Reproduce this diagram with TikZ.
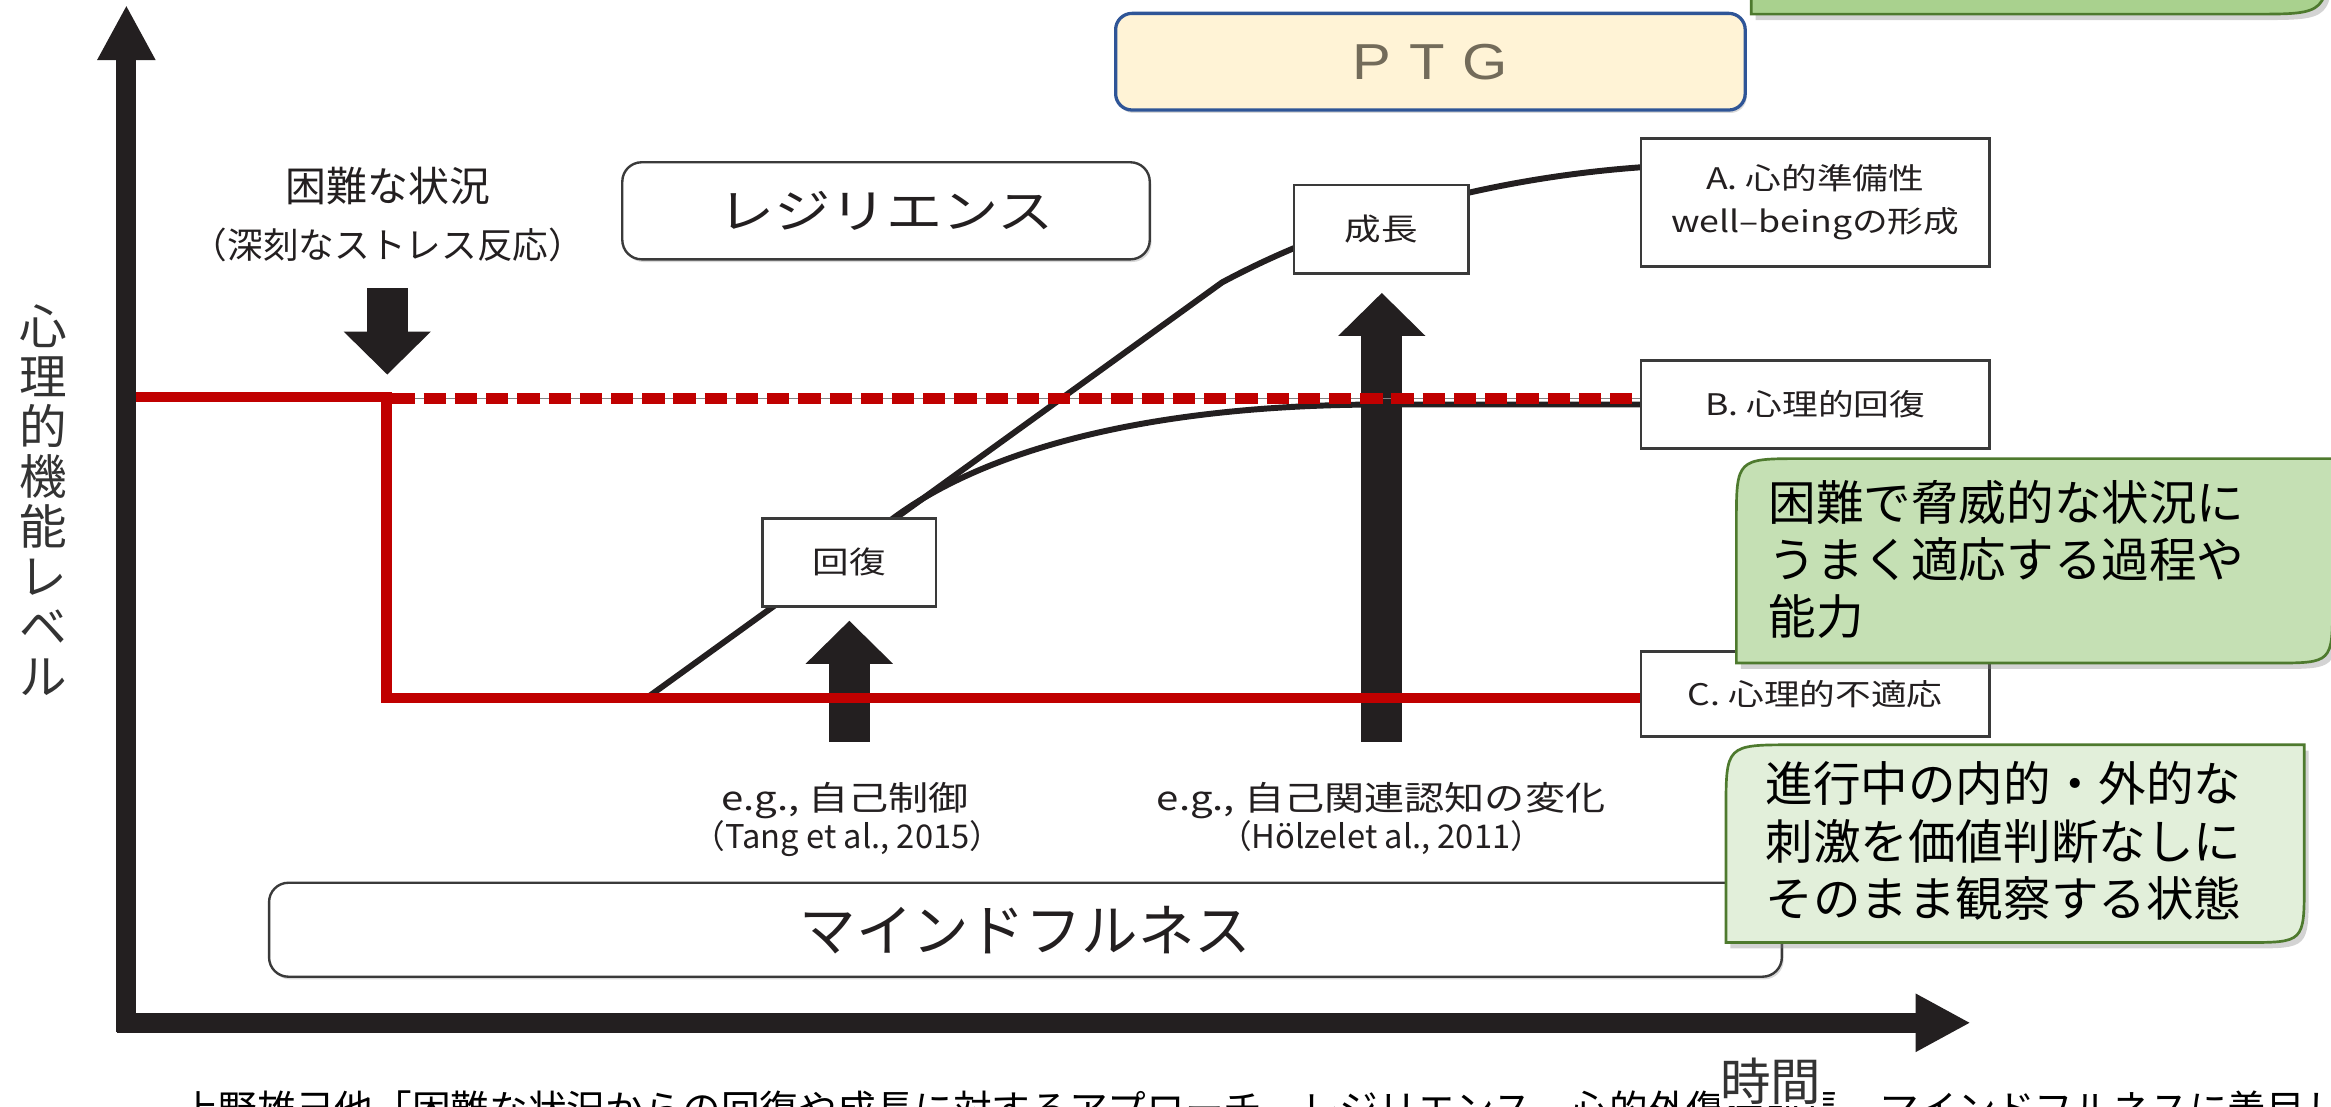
\documentclass[tikz,border=0pt]{standalone}
\usepackage{fontspec}
\setmainfont{Noto Sans CJK JP}
\newfontfamily\widefont{Noto Sans CJK JP}[FakeStretch=1.2]
\newfontfamily\ptgfont{Liberation Sans}[FakeStretch=1.15]
\usetikzlibrary{arrows.meta,shadows}
\definecolor{redline}{HTML}{C00000}
\definecolor{inkblack}{HTML}{231F20}
\definecolor{boxgray}{HTML}{3A3A3A}
\definecolor{ptgfill}{HTML}{FFF3D6}
\definecolor{ptgedge}{HTML}{2F5597}
\definecolor{ptgtext}{HTML}{736B5A}
\definecolor{greenA}{HTML}{A9D18E}
\definecolor{greenB}{HTML}{C5E0B4}
\definecolor{greenC}{HTML}{E2EFDA}
\definecolor{greenedge}{HTML}{4E7A2E}
\definecolor{textgray}{HTML}{333333}
\begin{document}
\begin{tikzpicture}[x=1pt,y=-1pt,
  sqbox/.style={draw=boxgray, line width=1.8pt, fill=white, inner sep=0pt, align=center, text=inkblack, font=\widefont\fontsize{20}{29}\selectfont},
  roundbox/.style={draw=boxgray, line width=1.6pt, fill=white, rounded corners=13pt, inner sep=0pt, text=inkblack, drop shadow={shadow xshift=1.2pt, shadow yshift=-1.8pt, opacity=0.3}},
  ptgbox/.style={draw=ptgedge, line width=2.2pt, fill=ptgfill, rounded corners=11pt, inner sep=0pt, text=ptgtext, font=\ptgfont\fontsize{34}{36}\selectfont, drop shadow={shadow xshift=1pt, shadow yshift=-2pt, opacity=0.3}},
  curve/.style={draw=inkblack, line width=4pt},
  blockarrow/.style={draw=inkblack, line width=27.5pt, -{Triangle[width=57pt,length=29pt]}},
  axis/.style={draw=inkblack, line width=13.5pt, -{Triangle[width=36.5pt,length=37pt]}},
  redsolid/.style={draw=redline, line width=7pt, line join=miter},
  reddash/.style={draw=redline, line width=7pt, dash pattern=on 15pt off 6pt},
  greenshape/.style={draw=greenedge, line width=1.8pt, drop shadow={shadow xshift=3pt, shadow yshift=-4pt, opacity=0.35}},
  greentext/.style={anchor=base west, inner sep=0pt, text=black, font=\fontsize{32}{38}\selectfont},
  lbl/.style={anchor=base, inner sep=0pt, text=inkblack}
]
\useasboundingbox (0,0) rectangle (1568,744);

% rounded boxes
\node[ptgbox, minimum width=423.5pt, minimum height=65pt] (ptg) at (962.2,41.5) {P\hspace{12pt}T\hspace{12pt}G};
\node[roundbox, minimum width=354.8pt, minimum height=65.3pt, font=\widefont\fontsize{31.5}{34}\selectfont] (resil) at (596,141.8) {レジリエンス};
\node[roundbox, minimum width=1017.6pt, minimum height=63.2pt, font=\fontsize{38}{40}\selectfont] (mindful) at (689.8,625.4) {マインドフルネス};

% curves
\coordinate (s0) at (435,469.5);
\coordinate (kink) at (822,190);
\coordinate (fork) at (599,350);
\coordinate (flat) at (930,272.1);
\coordinate (aIn) at (1104,112.5);
\draw[curve] (s0) -- (kink) .. controls (900,148) and (1000,120) .. (aIn);
\draw[curve] (fork) .. controls (665,300) and (780,272.1) .. (flat) -- (1104,272.1);

% block arrows
\coordinate (sa0) at (571.3,499);
\coordinate (sa1) at (571.3,417.5);
\coordinate (ba0) at (929.5,499);
\coordinate (ba1) at (929.5,197);
\coordinate (da0) at (260.5,194);
\coordinate (da1) at (260.5,252);
\draw[blockarrow] (sa0) -- (sa1);
\draw[blockarrow] (ba0) -- (ba1);
\draw[blockarrow] (da0) -- (da1);

% red lines
\coordinate (r0) at (91,267);
\coordinate (r1) at (260,267);
\coordinate (r2) at (260,469.5);
\coordinate (r3) at (1103,469.5);
\coordinate (d0) at (264,268);
\coordinate (d1) at (1103,268);
\draw[black!50, line width=1.1pt] (d0) -- (d1);
\draw[reddash] (d0) -- (d1);
\draw[redsolid] (r0) -- (r1) -- (r2) -- (r3);

% square boxes
\node[sqbox, minimum width=117.5pt, minimum height=59.4pt, font=\widefont\fontsize{20.5}{24}\selectfont] (growth) at (929.2,154.1) {成長};
\node[sqbox, minimum width=116.7pt, minimum height=59.4pt, font=\widefont\fontsize{20.5}{24}\selectfont] (recov) at (571.3,378.3) {回復};
\node[sqbox, minimum width=234.3pt, minimum height=86.1pt] (boxA) at (1221,136.1) {A. 心的準備性\\well–beingの形成};
\node[sqbox, minimum width=234.3pt, minimum height=59pt] (boxB) at (1221,272.1) {B. 心理的回復};
\node[sqbox, minimum width=234.3pt, minimum height=57.1pt] (boxC) at (1221,467) {C. 心理的不適応};

% axes
\coordinate (o1) at (85,694.5);
\coordinate (ytip) at (85,3.4);
\coordinate (o2) at (78.5,688);
\coordinate (xtip) at (1325.6,688);
\draw[axis] (o1) -- (ytip);
\draw[axis] (o2) -- (xtip);

% labels
\node[lbl, font=\fontsize{27.5}{30}\selectfont] (diff1) at (261,135.5) {困難な状況};
\node[lbl, font=\fontsize{24}{28}\selectfont] (diff2) at (261,174) {（深刻なストレス反応）};
\node[lbl, font=\widefont\fontsize{22.5}{26}\selectfont] (eg1) at (568.5,545) {e.g., 自己制御};
\node[lbl, font=\widefont\fontsize{22.5}{26}\selectfont] (eg2) at (929,545) {e.g., 自己関連認知の変化};
\node[lbl, font=\fontsize{22}{24}\selectfont] (ref1) at (570,571) {（Tang et al., 2015）};
\node[lbl, font=\fontsize{22}{24}\selectfont] (ref2) at (929,571) {（Hölzelet al., 2011）};
\foreach \c [count=\i from 0] in {心,理,的,機,能,レ,ベ,ル}
  \node[lbl, text=textgray, font=\fontsize{32}{34}\selectfont] (ylab\i) at (29,231.7+33.6*\i) {\c};

% green callouts
\draw[greenshape, fill=greenA] (1178,-60) -- (1178,9.5) -- (1516,9.5) .. controls (1566,9.5) .. (1566,-40.5) -- (1566,-60) -- cycle;
\draw[greenshape, fill=greenB] (1168,446) -- (1168,352.5) .. controls (1168,308.5) .. (1212,308.5) -- (1569,308.5) -- (1569,406) .. controls (1569,446) .. (1529,446) -- cycle;
\node[greentext] (gm1) at (1189.5,350) {困難で脅威的な状況に};
\node[greentext] (gm2) at (1189.5,388.5) {うまく適応する過程や};
\node[greentext] (gm3) at (1189.5,427) {能力};
\draw[greenshape, fill=greenC] (1161,634) -- (1161,546) .. controls (1161,501) .. (1206,501) -- (1550,501) -- (1550,594) .. controls (1550,634) .. (1510,634) -- cycle;
\node[greentext] (gb1) at (1187.5,539.2) {進行中の内的・外的な};
\node[greentext] (gb2) at (1187.5,578.2) {刺激を価値判断なしに};
\node[greentext] (gb3) at (1187.5,616.2) {そのまま観察する状態};

% caption (cut off at the bottom) and axis title
\node[anchor=base west, inner sep=0pt, text=black, font=\fontsize{26}{30}\selectfont] (caption) at (121,756) {上野雄己他「困難な状況からの回復や成長に対するアプローチ―レジリエンス，心的外傷後成長，マインドフルネスに着目して―」};
\node[anchor=base, inner sep=1pt, fill=white, text=textgray, font=\fontsize{34}{36}\selectfont] (time) at (1191,740) {時間};
\end{tikzpicture}
\end{document}
